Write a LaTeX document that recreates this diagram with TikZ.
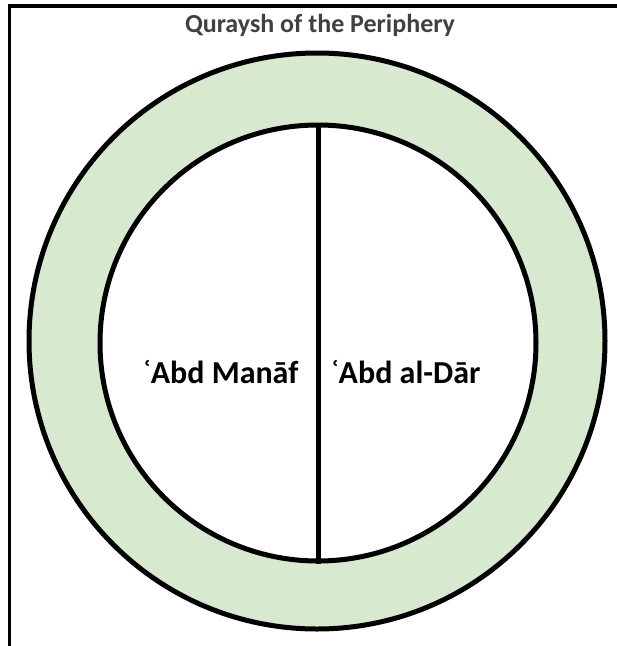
\documentclass[tikz,border=0pt]{standalone}
\usepackage{fontspec}
\setmainfont{Carlito}
\definecolor{ringgreen}{RGB}{215,233,207}
\definecolor{titlegray}{RGB}{64,64,64}
\begin{document}
\begin{tikzpicture}[x=1pt,y=-1pt,
  ringline/.style={draw=black,line width=5pt},
  frameline/.style={draw=black,line width=3.5pt},
  titletext/.style={font=\bfseries\fontsize{26}{30}\selectfont,text=titlegray,inner sep=0pt,anchor=base},
  labeltext/.style={font=\bfseries\fontsize{32}{38}\selectfont,text=black,inner sep=0pt,anchor=base}]
\useasboundingbox (0,0) rectangle (617,646);
% frame (top and left edges)
\coordinate (ftr) at (617,6);
\coordinate (ftl) at (9.5,6);
\coordinate (fbl) at (9.5,646);
\draw[frameline] (ftr) -- (ftl) -- (fbl);
% title
\node[titletext] (title) at (320,32) {Quraysh of the Periphery};
% rings
\node[ringline,fill=ringgreen,circle,minimum size=576pt,inner sep=0pt] (outer) at (317,341) {};
\node[ringline,fill=white,circle,minimum size=436pt,inner sep=0pt] (inner) at (318,343) {};
\draw[ringline] (inner.north) -- (inner.south);
% labels
\node[labeltext] (manaf) at (221,383) {ʿAbd Manāf};
\node[labeltext] (dar) at (406,383) {ʿAbd al-Dār};
\end{tikzpicture}
\end{document}
